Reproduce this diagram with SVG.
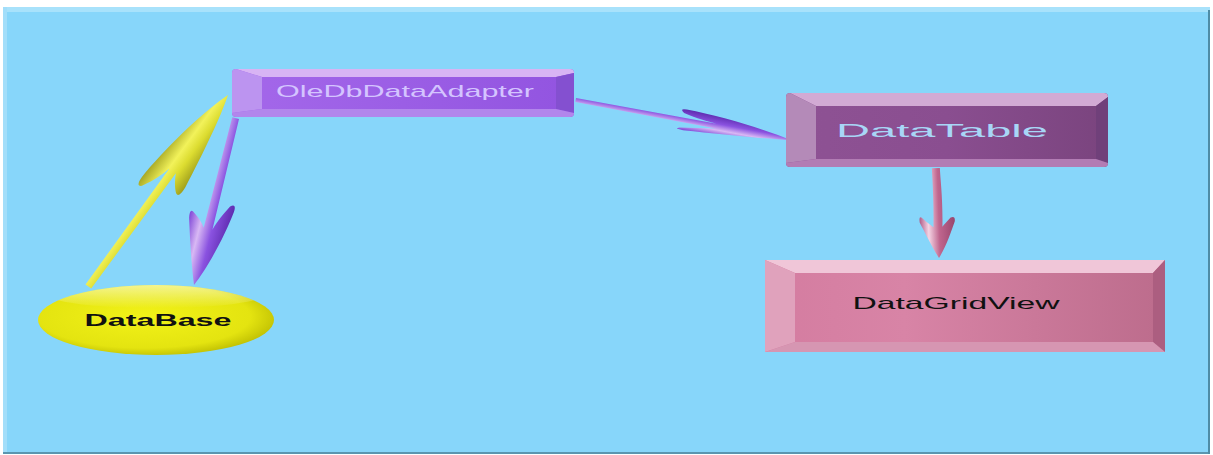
<svg xmlns="http://www.w3.org/2000/svg" width="1213" height="455" viewBox="0 0 1213 455">
<defs>
<style>
.lbl{font-family:"Liberation Sans",Arial,sans-serif;text-anchor:middle}
</style>
<linearGradient id="gYel" x1="0" y1="0" x2="0" y2="1"><stop offset="0" stop-color="#A8A824"/><stop offset="0.4" stop-color="#F2F25A"/><stop offset="0.65" stop-color="#DCDC30"/><stop offset="1" stop-color="#A0A01C"/></linearGradient>
<linearGradient id="gPur" x1="0" y1="0" x2="0" y2="1"><stop offset="0" stop-color="#5E2CB0"/><stop offset="0.4" stop-color="#8A52E0"/><stop offset="0.7" stop-color="#D8B8F4"/><stop offset="1" stop-color="#8048D8"/></linearGradient>
<linearGradient id="gPink" x1="0" y1="0" x2="0" y2="1"><stop offset="0" stop-color="#98466E"/><stop offset="0.45" stop-color="#C0668E"/><stop offset="0.75" stop-color="#F4D4E4"/><stop offset="1" stop-color="#B05C88"/></linearGradient>
<radialGradient id="gEll" cx="0.45" cy="0.45" r="0.6"><stop offset="0" stop-color="#F2F218"/><stop offset="0.75" stop-color="#E4E410"/><stop offset="1" stop-color="#BABA00"/></radialGradient>
<linearGradient id="gEllHi" x1="0" y1="0" x2="0" y2="1"><stop offset="0" stop-color="#FFFFE0" stop-opacity="0.75"/><stop offset="1" stop-color="#FFFFE0" stop-opacity="0"/></linearGradient>
<clipPath id="cEll"><ellipse cx="156" cy="320" rx="118" ry="35"/></clipPath>
<linearGradient id="gAdF" x1="0" y1="0" x2="1" y2="0"><stop offset="0" stop-color="#A468EA"/><stop offset="1" stop-color="#9254E0"/></linearGradient>
<linearGradient id="gDtF" x1="0" y1="0" x2="1" y2="0"><stop offset="0" stop-color="#8E5294"/><stop offset="0.5" stop-color="#8A4E90"/><stop offset="1" stop-color="#7A447E"/></linearGradient>
<linearGradient id="gDgF" x1="0" y1="0" x2="1" y2="0"><stop offset="0" stop-color="#D47CA0"/><stop offset="0.35" stop-color="#D884A6"/><stop offset="1" stop-color="#BC6C8C"/></linearGradient>
</defs>

<g id="background">
<rect x="0" y="0" width="1213" height="455" fill="#FFFFFF"/>
<rect x="3" y="7" width="1207" height="447" fill="#87D6FA"/>
<rect x="3" y="7" width="1207" height="5" fill="#A8E2FB"/>
<rect x="3" y="7" width="4" height="447" fill="#A2DEFA"/>
<rect x="3" y="452" width="1207" height="2" fill="#5A96B0"/>
<rect x="1208" y="10" width="2" height="444" fill="#4E8CA6"/>
</g>

<g id="connectors">
<path transform="translate(228,95) rotate(-53.9)" fill="url(#gYel)" d="M0,0 C-25,-9 -70,-18 -112,-21 Q-130,-22 -124,-16 C-112,-9 -102,-6 -94,-4 L-237,-3.5 L-237,3.5 L-94,4 C-100,7 -106,11 -110,16 Q-113,21 -100,20 C-60,14 -22,7 0,0 Z"/>
<path transform="translate(194,285) rotate(104)" fill="url(#gPur)" d="M0,0 C-20,-9 -55,-18 -80,-21 Q-90,-22 -85,-16 C-72,-9 -64,-6 -58,-4.5 L-172,-3.5 L-172,3.5 L-58,4.5 C-62,7 -66,11 -70,17 Q-75,23 -64,21 C-40,14 -18,7 0,0 Z"/>
<path transform="translate(791,140) rotate(10.5)" fill="url(#gPur)" d="M0,0 C-30,-6 -75,-11 -108,-11 Q-116,-11 -110,-7 C-96,-4 -86,-3 -76,-2.5 L-219,-2 L-219,2 L-76,2.5 C-88,4 -100,6 -112,8 Q-118,10 -108,10 C-70,7 -30,4 0,0 Z"/>
<path transform="translate(939,258) rotate(88)" fill="url(#gPink)" d="M0,0 C-12,-8 -26,-13 -36,-17 Q-42,-18 -40,-13 C-36,-9 -33,-6 -31,-4.5 C-60,-6 -80,-4 -90,-4 L-90,4 C-80,4 -60,3 -31,4.5 C-33,7 -36,11 -40,15 Q-44,19 -36,18 C-26,13 -12,7 0,0 Z"/>
</g>

<g id="node-adapter">
<rect x="232" y="69" width="342" height="48" rx="4" fill="url(#gAdF)"/>
<path d="M236,69 L570,69 Q574,69 574,73 L556,77 L262,77 Z" fill="#D8B4F4"/>
<path d="M232,73 Q232,69 236,69 L262,77 L262,109 L232,113 Z" fill="#BC94F0"/>
<path d="M574,73 L574,113 L556,109 L556,77 Z" fill="#8450D0"/>
<path d="M232,113 L262,109 L556,109 L574,113 Q574,117 570,117 L236,117 Q232,117 232,113 Z" fill="#B286EC"/>
<text class="lbl" x="405" y="97" font-size="17" fill="#D4C4FF" textLength="258" lengthAdjust="spacingAndGlyphs">OleDbDataAdapter</text>
</g>

<g id="node-datatable">
<rect x="786" y="93" width="322" height="74" rx="4" fill="url(#gDtF)"/>
<path d="M790,93 L1104,93 Q1108,93 1108,97 L1096,106 L816,106 Z" fill="#D2AAD4"/>
<path d="M786,97 Q786,93 790,93 L816,106 L816,159 L786,163 Z" fill="#B48AB8"/>
<path d="M1108,97 L1108,163 L1096,159 L1096,106 Z" fill="#70407A"/>
<path d="M786,163 L816,159 L1096,159 L1108,163 Q1108,167 1104,167 L790,167 Q786,167 786,163 Z" fill="#B27CB4"/>
<text class="lbl" x="942" y="137" font-size="19" fill="#A8D6F6" textLength="212" lengthAdjust="spacingAndGlyphs">DataTable</text>
</g>

<g id="node-datagridview">
<rect x="765" y="260" width="400" height="92" fill="url(#gDgF)"/>
<path d="M765,260 L1165,260 L1153,273 L795,273 Z" fill="#F0C6D8"/>
<path d="M765,260 L795,273 L795,342 L765,352 Z" fill="#E0A2BC"/>
<path d="M1165,260 L1165,352 L1153,342 L1153,273 Z" fill="#AC5E80"/>
<path d="M765,352 L795,342 L1153,342 L1165,352 Z" fill="#D696B2"/>
<text class="lbl" x="956" y="309" font-size="17" fill="#111111" textLength="207" lengthAdjust="spacingAndGlyphs">DataGridView</text>
</g>

<g id="node-database">
<ellipse cx="156" cy="320" rx="118" ry="35" fill="url(#gEll)"/>
<ellipse cx="156" cy="294" rx="110" ry="14" fill="url(#gEllHi)" clip-path="url(#cEll)"/>
<text class="lbl" x="158" y="326" font-size="17" font-weight="bold" fill="#111111" textLength="147" lengthAdjust="spacingAndGlyphs">DataBase</text>
</g>
</svg>
